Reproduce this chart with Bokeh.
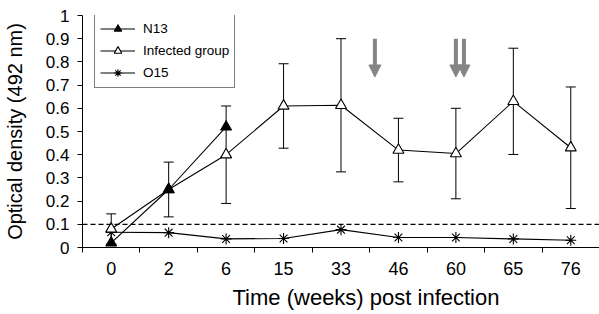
from bokeh.plotting import figure
from bokeh.models import (Range1d, FixedTicker, Whisker, TeeHead, ColumnDataSource,
                          Span, Arrow, NormalHead, Legend, LegendItem, Title)
from bokeh.embed import file_html
from bokeh.resources import INLINE

# ---- data ----
weeks = ["0", "2", "6", "15", "33", "46", "60", "65", "76"]
infected = [0.08, 0.25, 0.40, 0.61, 0.613, 0.42, 0.405, 0.63, 0.43]
infected_err = [0.065, 0.118, 0.21, 0.182, 0.287, 0.137, 0.195, 0.229, 0.262]
n13_weeks = ["0", "2", "6"]
n13 = [0.02, 0.25, 0.52]
o15 = [0.066, 0.064, 0.037, 0.039, 0.077, 0.043, 0.043, 0.037, 0.031]
cutoff = 0.1
y_ticks = [0, 0.1, 0.2, 0.3, 0.4, 0.5, 0.6, 0.7, 0.8, 0.9, 1]
y_tick_labels = ["0", "0.1", "0.2", "0.3", "0.4", "0.5", "0.6", "0.7", "0.8", "0.9", "1"]
# treatment arrows (week position as fractional category index, y start/end)
arrow_x = [4.59, 6.0, 6.14]
arrow_y = (0.90, 0.735)

FONT = "Liberation Sans"
x_idx = list(range(len(weeks)))
n13_idx = [weeks.index(w) for w in n13_weeks]

p = figure(width=599, height=314, output_backend="svg", toolbar_location=None,
           x_range=Range1d(-0.5, 8.5), y_range=Range1d(0, 1),
           min_border_left=82, min_border_right=0, min_border_top=15,
           min_border_bottom=66)
p.outline_line_color = None
p.xgrid.visible = False
p.ygrid.visible = False
p.background_fill_color = "white"

# error bars for infected group
src = ColumnDataSource(dict(
    x=x_idx,
    lower=[v - e for v, e in zip(infected, infected_err)],
    upper=[v + e for v, e in zip(infected, infected_err)]))
wk = Whisker(base="x", lower="lower", upper="upper", source=src, dimension="height",
             line_color="black", line_width=1,
             upper_head=TeeHead(size=10, line_color="black", line_width=1),
             lower_head=TeeHead(size=10, line_color="black", line_width=1))
p.add_layout(wk)

# cutoff
p.add_layout(Span(location=cutoff, dimension="width", line_color="black",
                  line_width=1.2, line_dash="5 3"))

# series
l_o15 = p.line(x_idx, o15, line_color="black", line_width=1.1)
m_o15 = p.scatter(x_idx, o15, marker="asterisk", size=11, line_color="black", line_width=1.1)
l_inf = p.line(x_idx, infected, line_color="black", line_width=1.1)
m_inf = p.scatter(x_idx, infected, marker="triangle", size=11, line_color="black",
                  fill_color="white", line_width=1.1)
l_n13 = p.line(n13_idx, n13, line_color="black", line_width=1.1)
m_n13 = p.scatter(n13_idx, n13, marker="triangle", size=11, line_color="black",
                  fill_color="black")

# arrows
gray = "#858585"
for ax in arrow_x:
    p.add_layout(Arrow(x_start=ax, y_start=arrow_y[0], x_end=ax, y_end=arrow_y[1],
                       line_color=gray, line_width=4,
                       end=NormalHead(size=12, fill_color=gray, line_color=gray)))

# axes
p.xaxis.ticker = FixedTicker(ticks=x_idx, minor_ticks=[i - 0.5 for i in x_idx])
p.xaxis.major_label_overrides = {i: w for i, w in zip(x_idx, weeks)}
p.xaxis.major_tick_line_color = None
p.xaxis.major_tick_out = 5
p.xaxis.major_tick_in = 0
p.xaxis.minor_tick_out = 5
p.xaxis.minor_tick_in = 0
p.xaxis.minor_tick_line_color = "black"
p.xaxis.major_label_standoff = 9

p.yaxis.ticker = FixedTicker(ticks=y_ticks)
p.yaxis.major_label_overrides = {t: l for t, l in zip(y_ticks, y_tick_labels)}
p.yaxis.major_tick_out = 5
p.yaxis.major_tick_in = 0
p.yaxis.minor_tick_line_color = None
p.yaxis.major_label_standoff = 8
p.yaxis.axis_label = "Optical density (492 nm)"
p.yaxis.axis_label_standoff = 17

for axis in (p.xaxis, p.yaxis):
    axis.axis_line_color = "black"
    axis.axis_line_width = 1
    axis.major_tick_line_width = 1
    axis.major_label_text_font = FONT
    axis.major_label_text_color = "black"
    axis.axis_label_text_font = FONT
    axis.axis_label_text_font_style = "normal"
    axis.axis_label_text_color = "black"
p.xaxis.major_label_text_font_size = "18px"
p.yaxis.major_label_text_font_size = "17px"
p.yaxis.axis_label_text_font_size = "20px"

# x-axis title, offset to the right as in the original figure
xtitle = Title(text="Time (weeks) post infection", align="left", offset=150,
               standoff=10, text_font=FONT, text_font_size="22px",
               text_font_style="normal", text_color="black")
p.add_layout(xtitle, "below")

legend = Legend(items=[
    LegendItem(label="N13", renderers=[l_n13, m_n13]),
    LegendItem(label="Infected group", renderers=[l_inf, m_inf]),
    LegendItem(label="O15", renderers=[l_o15, m_o15]),
], location=(12, 159))
legend.border_line_color = "black"
legend.border_line_width = 1
legend.padding = 5
legend.spacing = 3
legend.margin = 0
legend.glyph_width = 35
legend.glyph_height = 19
legend.label_height = 19
legend.label_standoff = 8
legend.label_text_font = FONT
legend.label_text_font_size = "13.5px"
legend.label_text_color = "black"
legend.background_fill_alpha = 1
p.add_layout(legend)

open("out.html", "w").write(file_html(p, INLINE))
